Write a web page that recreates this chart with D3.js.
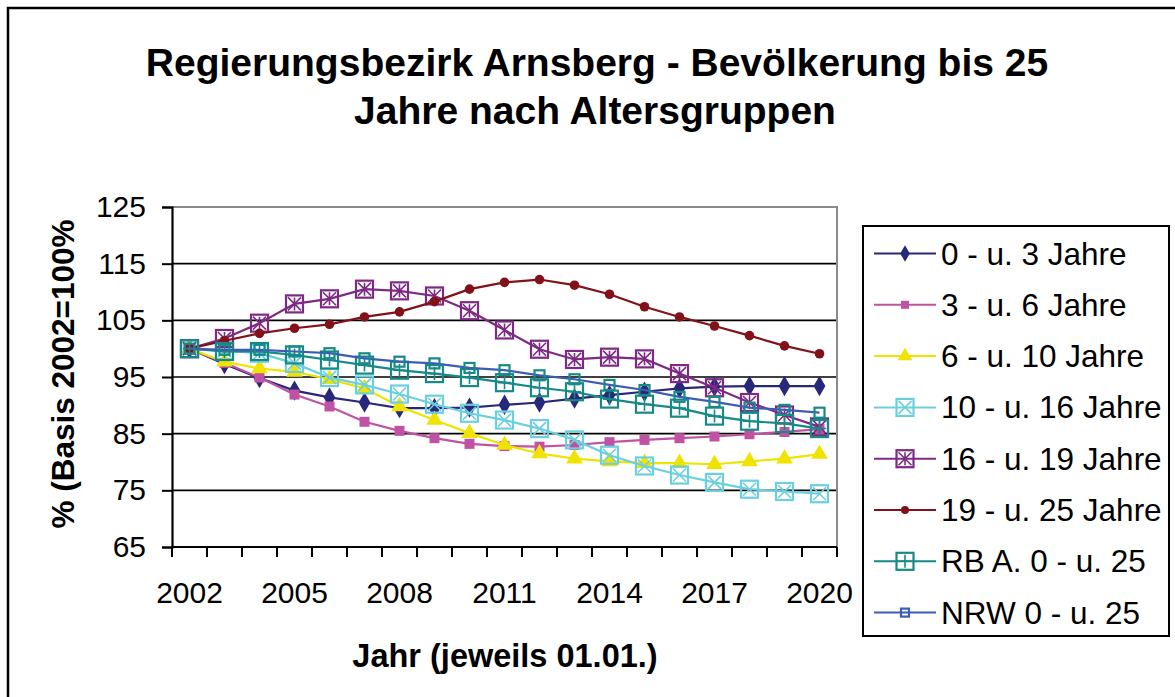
<!DOCTYPE html>
<html>
<head>
<meta charset="utf-8">
<script src="https://cdn.jsdelivr.net/npm/d3@7"></script>
<style>
  body { margin: 0; background: #fff; }
  text { font-family: "Liberation Sans", Arial, sans-serif; fill: #000; }
</style>
</head>
<body>
<svg id="chart"></svg>
<script>
// years on the x axis (jeweils 01.01.)
const years = [2002, 2003, 2004, 2005, 2006, 2007, 2008, 2009, 2010, 2011,
               2012, 2013, 2014, 2015, 2016, 2017, 2018, 2019, 2020];
const xTickLabels = [2002, 2005, 2008, 2011, 2014, 2017, 2020];
const yTickLabels = [65, 75, 85, 95, 105, 115, 125];

// index values, 2002 = 100%
const age0to3   = [100, 97.3, 94.8, 92.6, 91.4, 90.5, 89.5, 89.5, 89.6, 90.1, 90.5, 91.2, 91.8, 92.4, 93.0, 93.3, 93.4, 93.4, 93.4];
const age3to6   = [100, 97.5, 94.9, 91.9, 89.8, 87.1, 85.5, 84.2, 83.2, 82.8, 82.7, 83.0, 83.5, 83.9, 84.2, 84.5, 84.9, 85.3, 85.8];
const age6to10  = [100, 97.7, 96.5, 95.9, 94.6, 93.0, 89.8, 87.4, 85.1, 83.0, 81.5, 80.6, 80.1, 79.8, 79.8, 79.6, 80.1, 80.6, 81.4];
const age10to16 = [100, 99.6, 99.2, 97.4, 94.9, 93.6, 92.0, 90.2, 88.6, 87.4, 85.9, 83.9, 81.2, 79.3, 77.7, 76.4, 75.2, 74.8, 74.4];
const age16to19 = [100, 101.8, 104.5, 107.9, 108.8, 110.5, 110.2, 109.3, 106.7, 103.3, 99.9, 98.1, 98.5, 98.2, 95.6, 93.1, 90.5, 88.3, 86.2];
const age19to25 = [100, 101.4, 102.7, 103.6, 104.3, 105.6, 106.5, 108.3, 110.5, 111.7, 112.2, 111.2, 109.6, 107.4, 105.6, 104.0, 102.3, 100.5, 99.1];
const rbA0to25  = [100, 99.5, 99.5, 98.9, 98.0, 97.1, 96.2, 95.6, 94.9, 94.0, 93.1, 92.4, 91.1, 90.2, 89.5, 88.1, 87.2, 86.8, 85.9];
const nrw0to25  = [100, 99.8, 99.8, 99.5, 99.2, 98.3, 97.7, 97.4, 96.6, 96.2, 95.3, 94.6, 93.6, 92.7, 91.5, 90.6, 89.6, 89.2, 88.7];

const seriesNames = ["0 - u. 3 Jahre", "3 - u. 6 Jahre", "6 - u. 10 Jahre", "10 - u. 16 Jahre",
                     "16 - u. 19 Jahre", "19 - u. 25 Jahre", "RB A. 0 - u. 25", "NRW 0 - u. 25"];

const series = [
  {name: seriesNames[0], values: age0to3,   color: "#28287a", marker: "diamond"},
  {name: seriesNames[1], values: age3to6,   color: "#c052a3", marker: "square"},
  {name: seriesNames[2], values: age6to10,  color: "#f0e300", marker: "triangle"},
  {name: seriesNames[3], values: age10to16, color: "#6ccfe0", marker: "xbox"},
  {name: seriesNames[4], values: age16to19, color: "#7e2a85", marker: "starbox"},
  {name: seriesNames[5], values: age19to25, color: "#821119", marker: "circle"},
  {name: seriesNames[6], values: rbA0to25,  color: "#178987", marker: "plusbox"},
  {name: seriesNames[7], values: nrw0to25,  color: "#3c5db6", marker: "smallbox", markerColor: "#178987"}
];

const W = 1175, H = 697;
const plot = {left: 172, right: 837, top: 207, bottom: 547};

const svg = d3.select("#chart").attr("width", W).attr("height", H);

// outer frame of the chart object
svg.append("rect")
  .attr("x", 8).attr("y", 8)
  .attr("width", W + 20).attr("height", H + 20)
  .attr("fill", "none").attr("stroke", "#000").attr("stroke-width", 2.5);

// Title
const title = svg.append("text")
  .attr("text-anchor", "middle")
  .attr("font-weight", "bold")
  .style("font-size", "39px");
title.append("tspan").attr("x", 597).attr("y", 76).text("Regierungsbezirk Arnsberg - Bevölkerung bis 25");
title.append("tspan").attr("x", 595).attr("y", 124).text("Jahre nach Altersgruppen");

// scales
const xScale = d3.scaleBand().domain(years).range([plot.left, plot.right]).padding(0);
const yScale = d3.scaleLinear().domain([65, 125]).range([plot.bottom, plot.top]);
const xPos = i => xScale(years[i]) + xScale.bandwidth() / 2;

const chart = svg.append("g");

// gridlines
chart.append("g")
  .selectAll("line")
  .data(yTickLabels.filter(v => v > 65 && v < 125))
  .join("line")
  .attr("x1", plot.left).attr("x2", plot.right)
  .attr("y1", d => yScale(d)).attr("y2", d => yScale(d))
  .attr("stroke", "#000").attr("stroke-width", 1.6);

// plot area border (top/right gray)
chart.append("path")
  .attr("d", `M${plot.left},${plot.top}H${plot.right}V${plot.bottom}`)
  .attr("fill", "none").attr("stroke", "#8a8a8a").attr("stroke-width", 2);

// y axis
const yAxis = d3.axisLeft(yScale).tickValues(yTickLabels).tickSize(10).tickPadding(16);
const yAxisG = chart.append("g").attr("transform", `translate(${plot.left},0)`).call(yAxis);
yAxisG.select(".domain").attr("stroke", "#000").attr("stroke-width", 2.2);
yAxisG.selectAll(".tick line").attr("stroke", "#000").attr("stroke-width", 2);
yAxisG.selectAll(".tick text").style("font-size", "30px").style("font-family", "'Liberation Sans', Arial, sans-serif");

// x axis: ticks at category boundaries, labels every 3 years
const xAxisG = chart.append("g");
xAxisG.append("line")
  .attr("x1", plot.left).attr("x2", plot.right)
  .attr("y1", plot.bottom).attr("y2", plot.bottom)
  .attr("stroke", "#000").attr("stroke-width", 2.2);
xAxisG.selectAll(".xtick")
  .data(years.map(y => xScale(y)).concat([plot.right]))
  .join("line")
  .attr("class", "xtick")
  .attr("x1", d => d).attr("x2", d => d)
  .attr("y1", plot.bottom).attr("y2", plot.bottom + 10)
  .attr("stroke", "#000").attr("stroke-width", 2);
xAxisG.selectAll(".xlabel")
  .data(xTickLabels)
  .join("text")
  .attr("class", "xlabel")
  .attr("x", d => xScale(d) + xScale.bandwidth() / 2)
  .attr("y", 603)
  .attr("text-anchor", "middle")
  .style("font-size", "30px")
  .text(d => d);

// axis titles
svg.append("text")
  .attr("x", 505).attr("y", 667)
  .attr("text-anchor", "middle")
  .attr("font-weight", "bold")
  .style("font-size", "32.5px")
  .text("Jahr (jeweils 01.01.)");

svg.append("text")
  .attr("transform", "translate(74,374) rotate(-90)")
  .attr("text-anchor", "middle")
  .attr("font-weight", "bold")
  .style("font-size", "31.5px")
  .text("% (Basis 2002=100%");

// marker shapes
function drawMarker(g, type, color, s) {
  const sw = 2.2;
  if (type === "diamond") {
    g.append("path").attr("d", d3.symbol(d3.symbolDiamond, s.diamond)()).attr("fill", color);
  } else if (type === "square") {
    g.append("rect").attr("x", -s.sq / 2).attr("y", -s.sq / 2).attr("width", s.sq).attr("height", s.sq).attr("fill", color);
  } else if (type === "triangle") {
    g.append("path").attr("d", d3.symbol(d3.symbolTriangle, s.tri)()).attr("fill", color);
  } else if (type === "circle") {
    g.append("circle").attr("r", s.dot).attr("fill", color);
  } else if (type === "smallbox") {
    g.append("rect").attr("x", -s.small / 2).attr("y", -s.small / 2).attr("width", s.small).attr("height", s.small)
      .attr("fill", "none").attr("stroke", color).attr("stroke-width", sw);
  } else {
    const h = s.box / 2;
    g.append("rect").attr("x", -h).attr("y", -h).attr("width", s.box).attr("height", s.box)
      .attr("fill", "none").attr("stroke", color).attr("stroke-width", sw);
    const inner = h - 2;
    let d = "";
    if (type === "xbox" || type === "starbox") d += `M${-inner},${-inner}L${inner},${inner}M${-inner},${inner}L${inner},${-inner}`;
    if (type === "starbox") d += `M0,${-inner}V${inner}`;
    if (type === "plusbox") d += `M0,${-inner}V${inner}M${-inner},0H${inner}`;
    g.append("path").attr("d", d).attr("fill", "none").attr("stroke", color).attr("stroke-width", 1.6);
  }
}

const plotSizes = {diamond: 120, sq: 10, tri: 120, dot: 4.8, small: 10, box: 17};
const legendSizes = {diamond: 80, sq: 8, tri: 90, dot: 4, small: 8, box: 17};

const line = d3.line()
  .x((d, i) => xPos(i))
  .y(d => yScale(d));

series.forEach(s => {
  const sg = chart.append("g");
  sg.append("path")
    .attr("d", line(s.values))
    .attr("fill", "none")
    .attr("stroke", s.color)
    .attr("stroke-width", 2.2);
  sg.selectAll("g.pt")
    .data(s.values)
    .join("g")
    .attr("class", "pt")
    .attr("transform", (d, i) => `translate(${xPos(i)},${yScale(d)})`)
    .each(function () { drawMarker(d3.select(this), s.marker, s.markerColor || s.color, plotSizes); });
});

// legend
const legend = svg.append("g");
legend.append("rect")
  .attr("x", 863).attr("y", 226).attr("width", 306).attr("height", 410)
  .attr("fill", "#fff").attr("stroke", "#000").attr("stroke-width", 2);

const legendItems = legend.selectAll("g.item")
  .data(series)
  .join("g")
  .attr("class", "item")
  .attr("transform", (d, i) => `translate(0,${253.5 + i * 51.3})`);
legendItems.append("line")
  .attr("x1", 874).attr("x2", 936)
  .attr("stroke", d => d.color).attr("stroke-width", 2);
legendItems.append("g")
  .attr("transform", "translate(905,0)")
  .each(function (d) { drawMarker(d3.select(this), d.marker, d.color, legendSizes); });
legendItems.append("text")
  .attr("x", 941).attr("y", 11)
  .style("font-size", "31.5px")
  .text(d => d.name);
</script>
</body>
</html>
